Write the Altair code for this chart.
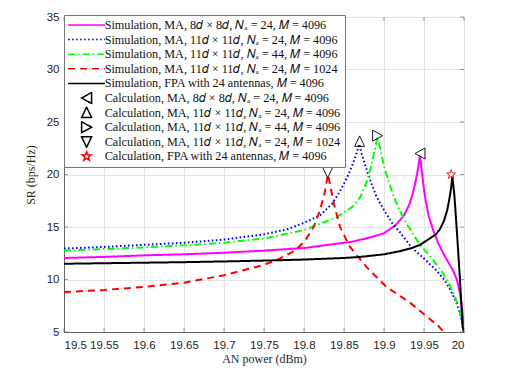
import altair as alt
import pandas as pd

# ---------------- data ----------------
sim_labels = [
    "Simulation, MA, 8𝑑 × 8𝑑, 𝑁ₐ = 24, 𝑀 = 4096",
    "Simulation, MA, 11𝑑 × 11𝑑, 𝑁ₐ = 24, 𝑀 = 4096",
    "Simulation, MA, 11𝑑 × 11𝑑, 𝑁ₐ = 44, 𝑀 = 4096",
    "Simulation, MA, 11𝑑 × 11𝑑, 𝑁ₐ = 24, 𝑀 = 1024",
    "Simulation, FPA with 24 antennas, 𝑀 = 4096",
]
calc_labels = [
    "Calculation, MA, 8𝑑 × 8𝑑, 𝑁ₐ = 24, 𝑀 = 4096",
    "Calculation, MA, 11𝑑 × 11𝑑, 𝑁ₐ = 24, 𝑀 = 4096",
    "Calculation, MA, 11𝑑 × 11𝑑, 𝑁ₐ = 44, 𝑀 = 4096",
    "Calculation, MA, 11𝑑 × 11𝑑, 𝑁ₐ = 24, 𝑀 = 1024",
    "Calculation, FPA with 24 antennas, 𝑀 = 4096",
]

ma8_x = [19.5, 19.55, 19.6, 19.65, 19.7, 19.75, 19.8, 19.83, 19.86, 19.88, 19.9, 19.915,
         19.925, 19.932, 19.938, 19.942, 19.945, 19.948, 19.951, 19.956, 19.961, 19.967,
         19.974, 19.98, 19.986, 19.991, 19.995, 19.998, 20.0]
ma8_y = [12.05, 12.15, 12.3, 12.4, 12.55, 12.75, 13.0, 13.3, 13.6, 13.95, 14.4, 15.2,
         16.1, 17.2, 18.8, 20.3, 21.8, 19.8, 18.0, 16.0, 14.8, 13.6,
         12.5, 11.7, 10.9, 10.0, 8.7, 7.0, 5.0]

ma11_x = [19.5, 19.55, 19.6, 19.65, 19.7, 19.75, 19.78, 19.8, 19.82, 19.835, 19.845, 19.855,
          19.862, 19.866, 19.869, 19.872, 19.876, 19.882, 19.89, 19.9, 19.91, 19.92, 19.935,
          19.95, 19.965, 19.975, 19.983, 19.99, 19.995, 19.998, 20.0]
ma11_y = [12.95, 13.1, 13.3, 13.5, 13.8, 14.3, 14.8, 15.4, 16.1, 17.2, 18.4, 19.9,
          21.2, 22.1, 22.9, 22.0, 21.0, 19.6, 18.0, 16.6, 15.4, 14.5, 13.0,
          12.0, 10.9, 10.0, 9.0, 7.9, 6.8, 5.8, 5.0]

ma44_x = [19.5, 19.55, 19.6, 19.65, 19.7, 19.75, 19.8, 19.82, 19.84, 19.86, 19.87, 19.878,
          19.884, 19.888, 19.892, 19.896, 19.9, 19.906, 19.912, 19.92, 19.93, 19.945, 19.96,
          19.972, 19.982, 19.988, 19.993, 19.997, 20.0]
ma44_y = [12.75, 12.9, 13.05, 13.25, 13.5, 13.9, 14.7, 15.3, 15.9, 16.9, 17.8, 19.2,
          20.8, 22.2, 23.6, 22.2, 20.8, 19.3, 17.9, 16.5, 15.1, 13.3, 12.0,
          10.8, 9.5, 8.5, 7.5, 6.3, 5.0]

ma1024_x = [19.5, 19.55, 19.6, 19.65, 19.7, 19.75, 19.77, 19.785, 19.795, 19.803, 19.812,
            19.82, 19.826, 19.83, 19.834, 19.837, 19.845, 19.8575, 19.878, 19.903, 19.9325,
            19.953, 19.968, 19.975]
ma1024_y = [8.8, 9.0, 9.3, 9.7, 10.4, 11.4, 12.0, 12.6, 13.2, 13.9, 15.0,
            16.6, 18.3, 20.0, 18.5, 17.3, 15.0, 13.1, 11.2, 9.3, 7.8,
            6.5, 5.57, 5.0]

fpa_x = [19.5, 19.55, 19.6, 19.65, 19.7, 19.75, 19.8, 19.85, 19.87, 19.9, 19.92, 19.935,
         19.945, 19.955, 19.965, 19.97, 19.975, 19.979, 19.982, 19.984, 19.9855, 19.988,
         19.991, 19.995, 19.9983, 20.0]
fpa_y = [11.5, 11.55, 11.6, 11.65, 11.72, 11.8, 11.9, 12.05, 12.15, 12.4, 12.7, 13.0,
         13.3, 13.8, 14.3, 14.8, 15.6, 16.6, 17.8, 18.8, 19.8, 18.0,
         14.7, 9.95, 5.5, 5.0]

calc_x = [19.945, 19.8695, 19.892, 19.8296, 19.984]
calc_y = [22.0, 23.15, 23.7, 20.2, 20.0]

x_ticks = [19.5, 19.55, 19.6, 19.65, 19.7, 19.75, 19.8, 19.85, 19.9, 19.95, 20.0]
y_ticks = [5, 10, 15, 20, 25, 30, 35]

# ---------------- tables ----------------
sim_x = [ma8_x, ma11_x, ma44_x, ma1024_x, fpa_x]
sim_y = [ma8_y, ma11_y, ma44_y, ma1024_y, fpa_y]
rows = []
for lab, xs, ys in zip(sim_labels, sim_x, sim_y):
    for i, (xv, yv) in enumerate(zip(xs, ys)):
        rows.append({"label": lab, "x": xv, "y": yv, "i": i})
sim_df = pd.DataFrame(rows)
calc_df = pd.DataFrame({"label": calc_labels, "x": calc_x, "y": calc_y})
xt_df = pd.DataFrame({"v": x_ticks})
yt_df = pd.DataFrame({"v": y_ticks})

all_labels = sim_labels + calc_labels
line_path = "M-3.7,0H3.7"
shapes = [line_path] * 5 + [
    "M-1,0L1,-1.1L1,1.1Z",
    "M0,-1.1L1,1L-1,1Z",
    "M1,0L-1,-1.1L-1,1.1Z",
    "M0,1.1L1,-1L-1,-1Z",
    "M0,-0.95L0.22,-0.31L0.9,-0.29L0.36,0.12L0.56,0.77L0,0.38L-0.56,0.77L-0.36,0.12L-0.9,-0.29L-0.22,-0.31Z",
]
colors = ["#ff00ff", "#0000ff", "#00ff00", "#ff0000", "#000000",
          "#000000", "#000000", "#000000", "#000000", "#ff0000"]
dashes = [[1, 0], [1.6, 2.4], [7, 3, 1.5, 3], [7, 5], [1, 0],
          [1, 0], [1, 0], [1, 0], [1, 0], [1, 0]]

xscale = alt.Scale(domain=[19.5, 20], nice=False, zero=False)
yscale = alt.Scale(domain=[5, 35], nice=False, zero=False)
xaxis = alt.Axis(values=x_ticks, tickCount=len(x_ticks), format=".4~g",
                 title="AN power (dBm)", labelOverlap=False)
yaxis = alt.Axis(values=y_ticks, tickCount=len(y_ticks), title="SR (bps/Hz)",
                 titleX=-27, minExtent=0)
X = alt.X("x:Q", scale=xscale, axis=xaxis)
Y = alt.Y("y:Q", scale=yscale, axis=yaxis)
leg = alt.Legend(title=None)
C = alt.Color("label:N", scale=alt.Scale(domain=all_labels, range=colors), legend=leg)
D = alt.StrokeDash("label:N", scale=alt.Scale(domain=all_labels, range=dashes), legend=leg)
S = alt.Shape("label:N", scale=alt.Scale(domain=all_labels, range=shapes), legend=leg)

lines = alt.Chart(sim_df).mark_line(clip=True, strokeWidth=2).encode(
    x=X, y=Y, color=C, strokeDash=D, order="i:Q")
points = alt.Chart(calc_df).mark_point(filled=False, size=100, opacity=1, strokeWidth=0.9).encode(
    x=X, y=Y, color=C, shape=S)

tick_col = "#555555"
xt_bot = alt.Chart(xt_df).mark_tick(orient="vertical", size=4, thickness=0.8, color=tick_col).encode(
    x=alt.X("v:Q", scale=xscale, axis=xaxis),
    y=alt.YDatum(5, scale=yscale, axis=yaxis), yOffset=alt.value(-2))
xt_top = alt.Chart(xt_df).mark_tick(orient="vertical", size=4, thickness=0.8, color=tick_col).encode(
    x=alt.X("v:Q", scale=xscale, axis=xaxis),
    y=alt.YDatum(35, scale=yscale, axis=yaxis), yOffset=alt.value(2))
yt_left = alt.Chart(yt_df).mark_tick(orient="horizontal", size=4, thickness=0.8, color=tick_col).encode(
    y=alt.Y("v:Q", scale=yscale, axis=yaxis),
    x=alt.XDatum(19.5, scale=xscale, axis=xaxis), xOffset=alt.value(2))
yt_right = alt.Chart(yt_df).mark_tick(orient="horizontal", size=4, thickness=0.8, color=tick_col).encode(
    y=alt.Y("v:Q", scale=yscale, axis=yaxis),
    x=alt.XDatum(20, scale=xscale, axis=xaxis), xOffset=alt.value(-2))

chart = alt.layer(lines, points, xt_bot, xt_top, yt_left, yt_right).properties(
    width=400, height=315,
    autosize=alt.AutoSizeParams(type="none"),
    padding={"left": 56, "top": 9, "right": 40, "bottom": 36},
).configure_view(
    stroke="#666666", strokeWidth=1
).configure_axis(
    labelFont="Liberation Sans", labelFontSize=11.5, labelColor="#262626",
    titleFont="Liberation Serif", titleFontSize=12, titleFontWeight="normal", titleColor="#262626",
    tickSize=0, grid=True, gridColor="#e3e3e3", gridWidth=1,
    domainColor="#666666", domainWidth=1,
).configure_axisX(
    labelPadding=7, titlePadding=3,
).configure_axisY(
    labelPadding=5, titlePadding=4,
).configure_legend(
    orient="none", legendX=0, legendY=-2,
    fillColor="white", strokeColor="#777777", padding=4,
    labelFont="Liberation Serif", labelFontSize=12.2, labelColor="#111111", labelLimit=500,
    symbolSize=100, symbolStrokeWidth=1.5, symbolOffset=12.5, labelOffset=12,
    clipHeight=12, rowPadding=1.6,
)

chart.save("out.html", embed_options={"renderer": "svg", "actions": False})
